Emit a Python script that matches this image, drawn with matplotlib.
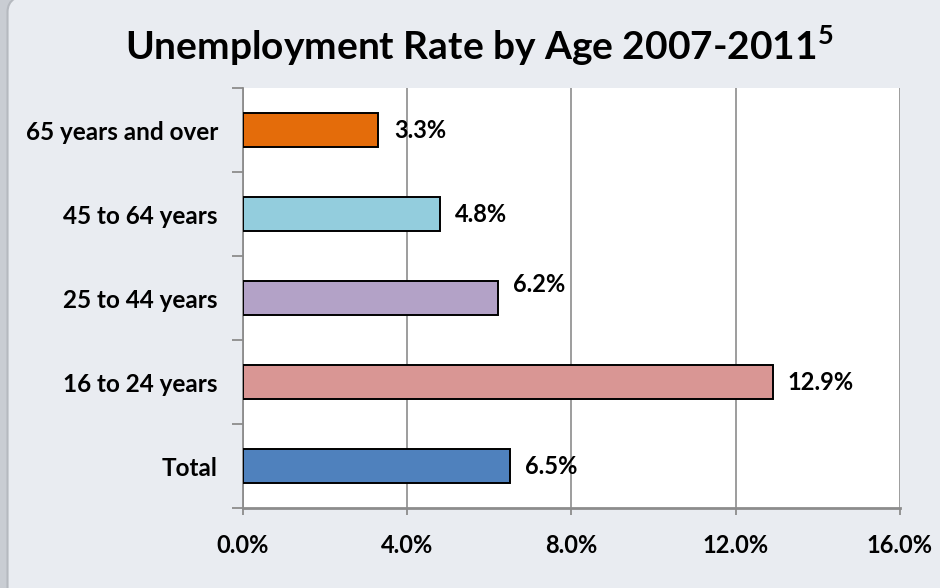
import matplotlib
matplotlib.use('Agg')
import matplotlib.pyplot as plt
from matplotlib.patches import FancyBboxPatch
from matplotlib.ticker import FixedLocator, FuncFormatter

plt.rcParams['font.family'] = ['Lato', 'DejaVu Sans']
plt.rcParams['mathtext.fontset'] = 'custom'
plt.rcParams['mathtext.bf'] = 'Lato:bold'
plt.rcParams['mathtext.rm'] = 'Lato'

# data, bottom to top
groups = ['Total', '16 to 24 years', '25 to 44 years', '45 to 64 years', '65 years and over']
rates = [6.5, 12.9, 6.2, 4.8, 3.3]
bar_colors = ['#4F81BD', '#D99694', '#B3A2C7', '#93CDDD', '#E46C0A']
x_ticks = [0, 4, 8, 12, 16]

fig = plt.figure(figsize=(9.4, 5.88), dpi=100)
fig.patch.set_facecolor('#c9cdd3')
# slide frame
frame = FancyBboxPatch((0.008, -0.05), 1.2, 1.06, boxstyle='round,pad=0,rounding_size=0.03',
                       transform=fig.transFigure, facecolor='#e9ecf1', edgecolor='#b5b9bf',
                       linewidth=1.5, zorder=-5)
fig.patches.append(frame)

ax = fig.add_axes([0.2585, 0.136, 0.6989, 0.7143])
ax.set_facecolor('white')

ypos = list(range(len(groups)))
ax.barh(ypos, rates, height=0.4, color=bar_colors, edgecolor='black', linewidth=1.4, zorder=3)

# label nudges in points (the 25-44 label sits a bit higher in the original)
nudge = {2: 10}
for i, v in enumerate(rates):
    ax.annotate(f'{v:.1f}%', (v, i), xytext=(11, nudge.get(i, 0)), textcoords='offset points',
                va='center', ha='left', fontsize=17, fontweight='bold', zorder=4)

ax.set_xlim(0, 16)
ax.set_ylim(-0.5, len(groups) - 0.5)
ax.xaxis.set_major_locator(FixedLocator(x_ticks))
ax.xaxis.set_major_formatter(FuncFormatter(lambda x, p: f'{x:.1f}%'))
ax.grid(axis='x', color='#8c8c8c', linewidth=1.2, zorder=1)

ax.set_yticks(ypos)
ax.set_yticklabels(groups)
ax.set_yticks([y - 0.5 for y in range(len(groups) + 1)], minor=True)
ax.tick_params(axis='y', which='major', length=0, pad=18, labelsize=17.5)
ax.tick_params(axis='y', which='minor', length=8, width=1.3, color='#8c8c8c', direction='out')
ax.tick_params(axis='x', which='major', length=5, width=1.3, color='#8c8c8c', pad=14, labelsize=17)
for lab in ax.get_xticklabels() + ax.get_yticklabels():
    lab.set_fontweight('bold')

for s in ['top', 'right']:
    ax.spines[s].set_visible(False)
ax.spines['left'].set_color('#8c8c8c')
ax.spines['left'].set_linewidth(1.3)
ax.spines['bottom'].set_color('#8c8c8c')
ax.spines['bottom'].set_linewidth(2)

fig.text(0.51, 0.922, r'Unemployment Rate by Age 2007-2011$^{\mathbf{5}}$', ha='center', va='center',
         fontsize=28, fontweight='bold')

fig.savefig('out.png', dpi=100, facecolor=fig.get_facecolor())
